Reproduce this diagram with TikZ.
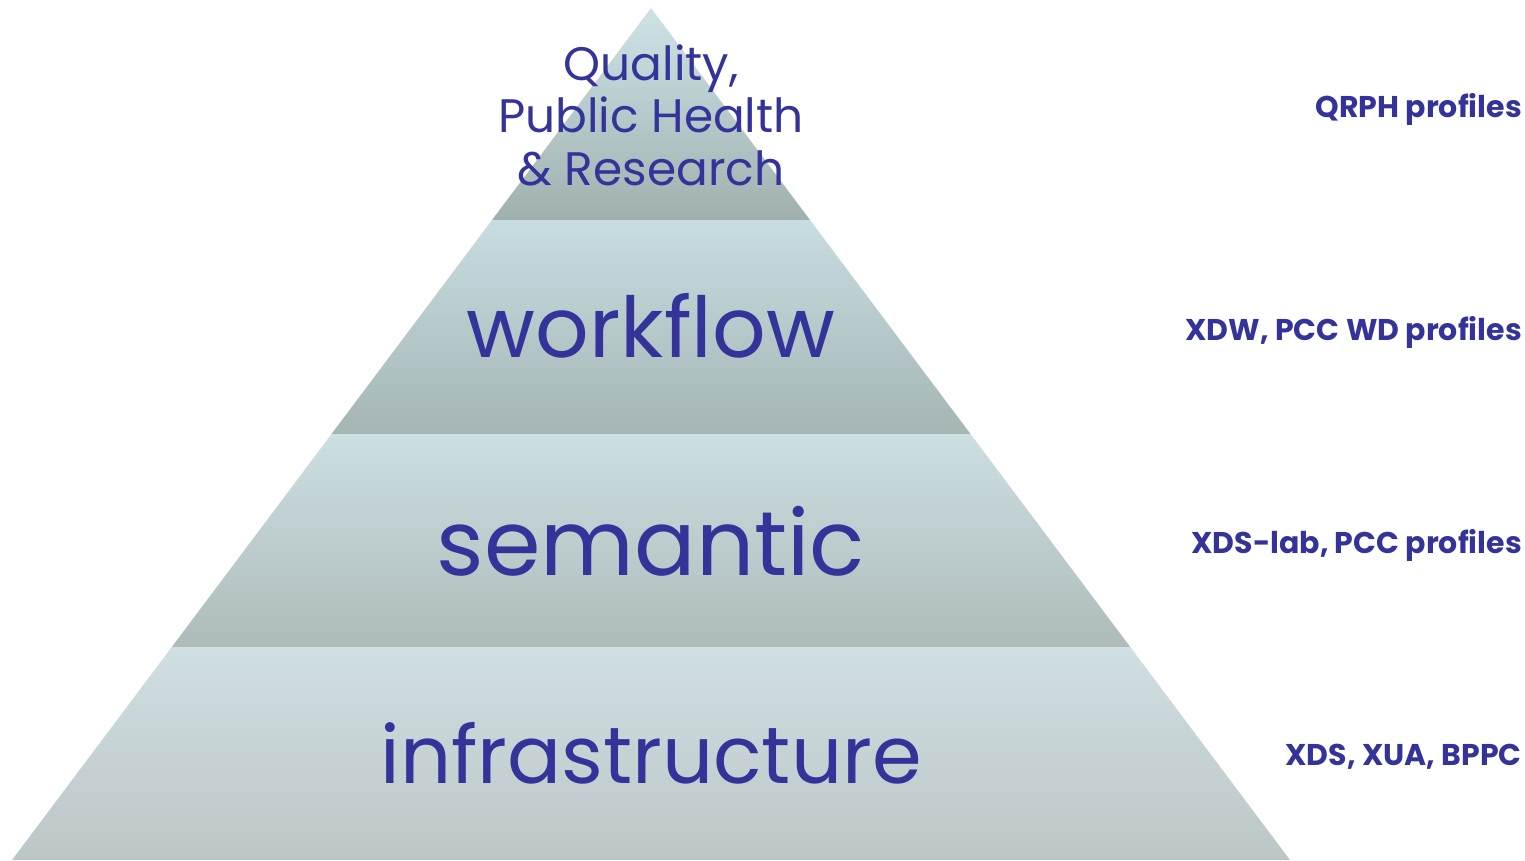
\documentclass[tikz,border=0pt]{standalone}
\usepackage{fontspec}
\setmainfont{Poppins}
\definecolor{txtblue}{HTML}{33339A}
\definecolor{aT}{HTML}{CFE3E7}\definecolor{aB}{HTML}{9FB0AE}
\definecolor{bT}{HTML}{C8DDE1}\definecolor{bB}{HTML}{A5B5B4}
\definecolor{cT}{HTML}{CDDFE2}\definecolor{cB}{HTML}{AEBBBA}
\definecolor{dT}{HTML}{D0DFE2}\definecolor{dB}{HTML}{BCC6C7}
\tikzset{
  layertext/.style={text=txtblue, anchor=base, inner sep=0pt},
  sidelabel/.style={text=txtblue, anchor=base east, inner sep=0pt, font=\fontsize{30}{34}\selectfont\bfseries},
}
\begin{document}
\begin{tikzpicture}[x=1pt,y=-1pt]
\useasboundingbox (0,0) rectangle (1525,860);
% layers
\shade[top color=aT, bottom color=aB] (651,8) -- (810,220) -- (492,220) -- cycle;
\shade[top color=bT, bottom color=bB] (492,220) -- (810,220) -- (970.5,434) -- (331.5,434) -- cycle;
\shade[top color=cT, bottom color=cB] (331.5,434) -- (970.5,434) -- (1130.25,647) -- (171.75,647) -- cycle;
\shade[top color=dT, bottom color=dB] (171.75,647) -- (1130.25,647) -- (1290,860) -- (12,860) -- cycle;
% pyramid texts
\node[layertext, font=\fontsize{47}{47}\selectfont] (q1) at (651,80) {Quality,};
\node[layertext, font=\fontsize{47}{47}\selectfont] (q2) at (651,132) {Public Health};
\node[layertext, font=\fontsize{47}{47}\selectfont] (q3) at (651,185) {\&~Research};
\node[layertext, font=\fontsize{84}{84}\selectfont] (wf) at (651,357) {workflow};
\node[layertext, font=\fontsize{91}{91}\selectfont] (se) at (651,575) {semantic};
\node[layertext, font=\fontsize{80}{80}\selectfont] (in) at (651,783) {infrastructure};
% side labels
\node[sidelabel] (l1) at (1522,117) {QRPH profiles};
\node[sidelabel] (l2) at (1522,340) {XDW, PCC WD profiles};
\node[sidelabel] (l3) at (1522,553) {XDS-lab, PCC profiles};
\node[sidelabel] (l4) at (1522,765) {XDS, XUA, BPPC};
\end{tikzpicture}
\end{document}
